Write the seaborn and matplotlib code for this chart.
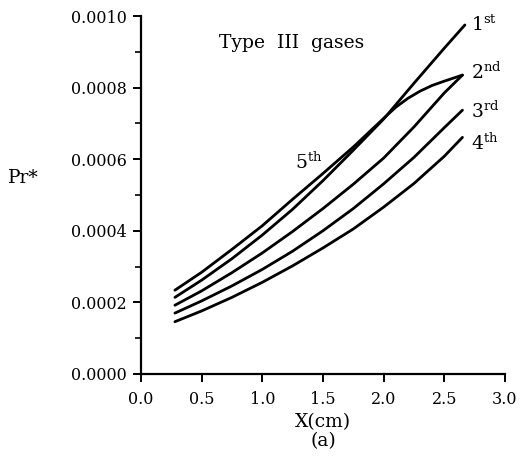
import matplotlib
matplotlib.use("Agg")
import matplotlib.pyplot as plt
import seaborn as sns
import pandas as pd
from matplotlib.ticker import MultipleLocator

# Pr* along the channel for the five modes of Type III gases
x_cm = [0.28, 0.5, 0.75, 1.0, 1.25, 1.5, 1.75, 2.0, 2.25, 2.5, 2.65]
x_first = [0.28, 0.5, 0.75, 1.0, 1.25, 1.5, 1.75, 2.0, 2.25, 2.5, 2.67]
x_fifth = [0.28, 0.5, 0.75, 1.0, 1.25, 1.5, 1.75, 2.0, 2.1, 2.2, 2.3, 2.4, 2.5, 2.65]
pr_first = [0.000214, 0.000262, 0.000322, 0.000388, 0.000460, 0.000540, 0.000625, 0.000712,
            0.000812, 0.000910, 0.000975]
pr_second = [0.000192, 0.000232, 0.000283, 0.000338, 0.000398, 0.000462, 0.000530, 0.000603,
             0.000690, 0.000785, 0.000835]
pr_third = [0.000170, 0.000204, 0.000246, 0.000292, 0.000343, 0.000400, 0.000462, 0.000531,
            0.000605, 0.000688, 0.000737]
pr_fourth = [0.000146, 0.000176, 0.000214, 0.000256, 0.000302, 0.000352, 0.000405, 0.000466,
             0.000532, 0.000608, 0.000661]
pr_fifth = [0.000234, 0.000284, 0.000348, 0.000414, 0.000488, 0.000560, 0.000634, 0.000714,
            0.000745, 0.000770, 0.000790, 0.000806, 0.000818, 0.000835]

mode_labels = ["1$^{\\rm st}$", "2$^{\\rm nd}$", "3$^{\\rm rd}$", "4$^{\\rm th}$"]
label_y = [0.000975, 0.000843, 0.000735, 0.000645]
fifth_label = "5$^{\\rm th}$"

x_ticks = [0.0, 0.5, 1.0, 1.5, 2.0, 2.5, 3.0]
x_tick_labels = ["0.0", "0.5", "1.0", "1.5", "2.0", "2.5", "3.0"]
y_ticks = [0.0, 0.0002, 0.0004, 0.0006, 0.0008, 0.0010]
y_tick_labels = ["0.0000", "0.0002", "0.0004", "0.0006", "0.0008", "0.0010"]

sns.set_style("ticks")
plt.rcParams["font.family"] = ["DejaVu Serif"]
plt.rcParams["mathtext.fontset"] = "custom"
plt.rcParams["mathtext.rm"] = "DejaVu Serif"
plt.rcParams["mathtext.it"] = "DejaVu Serif:italic"
for key in ("text.color", "axes.labelcolor", "xtick.color", "ytick.color", "axes.edgecolor"):
    plt.rcParams[key] = "black"

rows = []
for name, xs, ys in [("1st", x_first, pr_first), ("2nd", x_cm, pr_second),
                     ("3rd", x_cm, pr_third), ("4th", x_cm, pr_fourth),
                     ("5th", x_fifth, pr_fifth)]:
    for xv, yv in zip(xs, ys):
        rows.append({"mode": name, "x": xv, "pr": yv})
df = pd.DataFrame(rows)

fig = plt.figure(figsize=(5.2, 4.71), dpi=100)
ax = fig.add_axes([0.271, 0.206, 0.700, 0.760])

sns.lineplot(data=df, x="x", y="pr", units="mode", estimator=None, sort=False,
             color="black", linewidth=2.0, ax=ax, legend=False)

ax.set_xlim(0.0, 3.0)
ax.set_ylim(0.0, 0.0010)
ax.set_xticks(x_ticks)
ax.set_xticklabels(x_tick_labels)
ax.set_yticks(y_ticks)
ax.set_yticklabels(y_tick_labels)
ax.yaxis.set_minor_locator(MultipleLocator(0.0001))

sns.despine(ax=ax)
for side in ("left", "bottom"):
    ax.spines[side].set_linewidth(1.6)
    ax.spines[side].set_color("black")
ax.tick_params(axis="both", which="major", direction="out", length=6, width=1.4,
               labelsize=11.5, colors="black")
ax.tick_params(axis="y", which="minor", direction="out", length=4, width=1.2)
ax.tick_params(axis="x", pad=6)
ax.tick_params(axis="y", pad=4)

ax.set_xlabel("X(cm)", fontsize=13.5, labelpad=4)
ax.set_ylabel("")
ax.text(-0.322, 0.547, "Pr*", transform=ax.transAxes, fontsize=13.5,
        ha="center", va="center")
ax.text(0.5, -0.187, "(a)", transform=ax.transAxes, fontsize=13.5,
        ha="center", va="center")

ax.text(0.64, 0.000925, "Type  III  gases", fontsize=13.5, ha="left", va="center")
for lab, yv in zip(mode_labels, label_y):
    ax.text(2.72, yv, lab, fontsize=13.5, ha="left", va="center")
ax.text(1.27, 0.000592, fifth_label, fontsize=13.5, ha="left", va="center")

fig.savefig("out.png", dpi=100)
